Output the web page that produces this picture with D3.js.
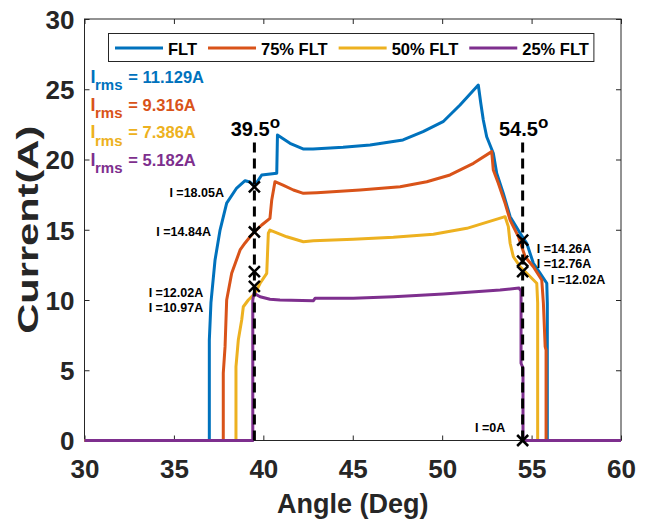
<!DOCTYPE html>
<html>
<head>
<meta charset="utf-8">
<script src="https://cdn.jsdelivr.net/npm/d3@7"></script>
<style>
  html, body { margin: 0; padding: 0; background: #fff; }
  svg { display: block; font-family: "Liberation Sans", Arial, Helvetica, sans-serif; font-weight: bold; }
</style>
</head>
<body>
<svg id="chart" width="645" height="521"></svg>
<script>
// ---- data ---------------------------------------------------------------
const angleTicks = [30, 35, 40, 45, 50, 55, 60];
const currentTicks = [0, 5, 10, 15, 20, 25, 30];

const seriesNames = ["FLT", "75% FLT", "50% FLT", "25% FLT"];
const rmsValues = ["11.129", "9.316", "7.386", "5.182"];

// full load
const fltAngle = [30, 36.98, 36.98, 37.07, 37.30, 37.58, 37.95, 38.51, 38.98, 39.25, 39.5, 39.91, 40.75, 40.79, 41.49, 42.22, 42.78, 44.46, 45.97, 47.81, 48.93, 50.05, 51.0, 52.02, 52.16, 52.30, 52.49, 52.86, 53.05, 53.42, 53.80, 54.36, 54.73, 55.10, 55.48, 55.85, 55.88, 55.88, 60];
const fltCurrent = [0, 0, 7.15, 9.79, 12.85, 14.98, 16.9, 17.97, 18.49, 18.4, 18.1, 18.9, 19.02, 21.74, 21.15, 20.75, 20.75, 20.87, 21.03, 21.39, 21.98, 22.69, 23.88, 25.3, 24.0, 22.81, 21.62, 20.44, 19.02, 17.59, 15.93, 14.75, 14.04, 12.61, 11.9, 11.19, 9.77, 0, 0];

// 75 % load
const flt75Angle = [30, 37.76, 37.76, 37.86, 37.95, 38.23, 38.70, 38.98, 39.26, 39.5, 39.91, 40.37, 40.47, 40.65, 41.10, 41.68, 42.24, 42.99, 45.41, 47.65, 49.14, 50.44, 51.75, 52.77, 52.86, 53.14, 53.52, 53.80, 54.26, 54.64, 55.10, 55.57, 55.66, 55.76, 55.81, 55.81, 60];
const flt75Current = [0, 0, 4.8, 6.68, 10.0, 11.9, 13.56, 14.06, 14.5, 14.84, 15.34, 15.81, 17.12, 18.42, 18.18, 17.83, 17.59, 17.64, 17.83, 18.06, 18.42, 18.9, 19.73, 20.56, 19.25, 18.31, 16.88, 15.69, 14.51, 13.08, 12.37, 11.42, 9.77, 6.68, 6.44, 0, 0];

// 50 % load
const flt50Angle = [30, 38.47, 38.47, 38.60, 38.79, 38.88, 39.16, 39.54, 39.82, 40.19, 40.28, 40.37, 41.31, 42.24, 42.80, 45.03, 47.27, 49.51, 51.38, 53.52, 53.70, 53.80, 53.98, 54.36, 54.73, 55.29, 55.34, 55.34, 60];
const flt50Current = [0, 0, 5.25, 7.15, 8.58, 9.52, 10.0, 10.48, 11.19, 11.9, 14.75, 14.98, 14.5, 14.15, 14.22, 14.32, 14.46, 14.68, 15.1, 15.93, 15.22, 14.04, 13.08, 12.37, 11.9, 11.19, 9.79, 0, 0];

// 25 % load
const flt25Angle = [30, 39.41, 39.41, 39.48, 39.82, 40.37, 40.93, 42.80, 42.89, 45.03, 47.27, 50.07, 53.24, 54.30, 54.41, 54.41, 54.52, 54.52, 60];
const flt25Current = [0, 0, 10.0, 10.48, 10.23, 10.05, 10.0, 9.95, 10.12, 10.12, 10.23, 10.43, 10.71, 10.85, 10.64, 5.5, 5.16, 0, 0];

// sampled points marked with crosses
const markerLeftAngle = 39.5;
const markerLeftCurrent = [18.05, 14.84, 12.02, 10.97];
const markerRightAngle = 54.5;
const markerRightCurrent = [14.26, 12.76, 12.02, 0];

const colors = ["#0072BD", "#D95319", "#EDB120", "#7E2F8E"];

// ---- scales ------------------------------------------------------------
const svg = d3.select("#chart");
const x = d3.scaleLinear().domain([30, 60]).range([84.5, 621]);
const y = d3.scaleLinear().domain([0, 30]).range([440.5, 19]);
const axisColor = "#262626";

// ---- axes box with inward ticks on all sides -----------------------------
svg.append("rect")
  .attr("x", x(30)).attr("y", y(30))
  .attr("width", x(60) - x(30)).attr("height", y(0) - y(30))
  .attr("fill", "#fff").attr("stroke", axisColor).attr("stroke-width", 1);

function styleAxis(g) {
  g.select(".domain").remove();
  g.selectAll(".tick line").attr("stroke", axisColor).attr("stroke-width", 1);
  g.selectAll(".tick text").attr("fill", axisColor)
    .attr("font-size", 26).attr("font-weight", "bold")
    .attr("font-family", '"Liberation Sans", Arial, sans-serif');
}

const gx = svg.append("g").attr("transform", `translate(0,${y(0)})`)
  .call(d3.axisBottom(x).tickValues(angleTicks).tickSize(-5).tickSizeOuter(0).tickFormat(d3.format("d")))
  .call(styleAxis);
gx.selectAll(".tick text").attr("y", 37.5).attr("dy", null);

svg.append("g").attr("transform", `translate(0,${y(30)})`)
  .call(d3.axisTop(x).tickValues(angleTicks).tickSize(-5).tickSizeOuter(0).tickFormat(""))
  .call(styleAxis);

const gy = svg.append("g").attr("transform", `translate(${x(30)},0)`)
  .call(d3.axisLeft(y).tickValues(currentTicks).tickSize(-5).tickSizeOuter(0).tickFormat(d3.format("d")))
  .call(styleAxis);
gy.selectAll(".tick text").attr("x", -10).attr("dy", "0.36em");

svg.append("g").attr("transform", `translate(${x(60)},0)`)
  .call(d3.axisRight(y).tickValues(currentTicks).tickSize(-5).tickSizeOuter(0).tickFormat(""))
  .call(styleAxis);

// axis titles
svg.append("text")
  .attr("x", (x(30) + x(60)) / 2).attr("y", 513)
  .attr("text-anchor", "middle").attr("font-size", 27).attr("fill", axisColor)
  .text("Angle (Deg)");
svg.append("text")
  .attr("transform", `translate(38,${(y(0) + y(30)) / 2}) rotate(-90)`)
  .attr("text-anchor", "middle").attr("font-size", 30).attr("fill", axisColor)
  .attr("textLength", 208).attr("lengthAdjust", "spacingAndGlyphs")
  .text("Current(A)");

// ---- current waveforms --------------------------------------------------
const series = [
  { angle: fltAngle, current: fltCurrent },
  { angle: flt75Angle, current: flt75Current },
  { angle: flt50Angle, current: flt50Current },
  { angle: flt25Angle, current: flt25Current }
];
const line = d3.line().x(d => x(d[0])).y(d => y(d[1]));

series.forEach((s, i) => {
  const pts = s.angle.map((a, k) => [a, s.current[k]]);
  svg.append("path")
    .datum(pts)
    .attr("d", line)
    .attr("fill", "none")
    .attr("stroke", colors[i])
    .attr("stroke-width", 3)
    .attr("stroke-linejoin", "round");
});

// ---- switching-angle guides --------------------------------------------
function angleGuide(angle) {
  svg.append("line")
    .attr("x1", x(angle)).attr("x2", x(angle))
    .attr("y1", y(0)).attr("y2", 142)
    .attr("stroke", "#000").attr("stroke-width", 3)
    .attr("stroke-dasharray", "10,6");
  const t = svg.append("text")
    .attr("x", x(angle) + 1).attr("y", 136)
    .attr("text-anchor", "middle").attr("font-size", 20).attr("fill", "#000");
  t.append("tspan").text(d3.format(".1f")(angle));
  t.append("tspan").attr("font-size", 17).attr("dy", -8).text("o");
}
angleGuide(markerLeftAngle);
angleGuide(markerRightAngle);

// ---- cross markers ------------------------------------------------------
const s = 5.5;
function cross(a, c) {
  svg.append("path")
    .attr("transform", `translate(${x(a)},${y(c)})`)
    .attr("d", `M${-s},${-s}L${s},${s}M${-s},${s}L${s},${-s}`)
    .attr("stroke", "#000").attr("stroke-width", 2.5).attr("fill", "none");
}
markerLeftCurrent.forEach(c => cross(markerLeftAngle, c));
markerRightCurrent.forEach(c => cross(markerRightAngle, c));

// value labels, placed in data coordinates
const fmtI = v => "I =" + (v === 0 ? "0" : d3.format(".2f")(v)) + "A";
const valueLabels = [
  { a: 37.80, c: 17.33, v: markerLeftCurrent[0], anchor: "end" },
  { a: 37.07, c: 14.56, v: markerLeftCurrent[1], anchor: "end" },
  { a: 36.64, c: 10.23, v: markerLeftCurrent[2], anchor: "end" },
  { a: 36.64, c: 9.17, v: markerLeftCurrent[3], anchor: "end" },
  { a: 55.29, c: 13.32, v: markerRightCurrent[0], anchor: "start" },
  { a: 55.29, c: 12.26, v: markerRightCurrent[1], anchor: "start" },
  { a: 56.07, c: 11.14, v: markerRightCurrent[2], anchor: "start" },
  { a: 51.84, c: 0.63, v: markerRightCurrent[3], anchor: "start" }
];
valueLabels.forEach(l => {
  svg.append("text")
    .attr("x", x(l.a)).attr("y", y(l.c))
    .attr("text-anchor", l.anchor).attr("font-size", 12.5).attr("fill", "#000")
    .text(fmtI(l.v));
});

// ---- RMS readouts -------------------------------------------------------
rmsValues.forEach((v, i) => {
  const base = 82.7 + i * 27.8;
  const g = svg.append("g").attr("fill", colors[i]);
  g.append("text").attr("x", 90.5).attr("y", base).attr("font-size", 18).text("I");
  g.append("text").attr("x", 95).attr("y", base + 7.3).attr("font-size", 15).text("rms");
  g.append("text").attr("x", 128.3).attr("y", base).attr("font-size", 16.5).text("= " + v + "A");
});

// ---- legend -------------------------------------------------------------
const legend = svg.append("g");
const box = legend.append("rect")
  .attr("fill", "#fff").attr("stroke", axisColor).attr("stroke-width", 1);
let cx = 115;
const legY = 48;
seriesNames.forEach((name, i) => {
  legend.append("line")
    .attr("x1", cx).attr("x2", cx + 48).attr("y1", legY).attr("y2", legY)
    .attr("stroke", colors[i]).attr("stroke-width", 3);
  const t = legend.append("text")
    .attr("x", cx + 53).attr("y", legY + 6.5)
    .attr("font-size", 16.5).attr("fill", "#000").text(name);
  cx = cx + 53 + t.node().getComputedTextLength() + 11;
});
box.attr("x", 108.5).attr("y", 33.5).attr("width", cx - 11 + 5 - 108.5).attr("height", 28);
</script>
</body>
</html>
